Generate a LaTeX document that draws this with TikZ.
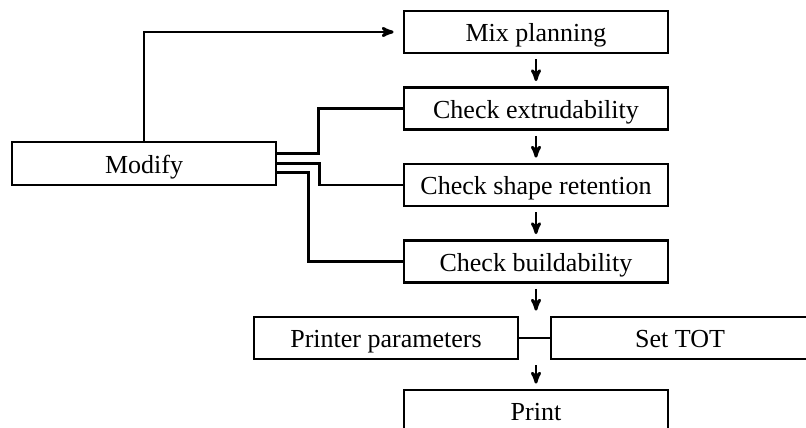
\documentclass[tikz,border=0pt]{standalone}
\usepackage{fontspec}
\setmainfont{Liberation Serif}
\usetikzlibrary{arrows}

\begin{document}
\begin{tikzpicture}[x=1pt,y=-1pt,>=stealth',line width=2.8pt,node distance=76.5pt,
        box node/.style={rectangle,draw,minimum width=264pt,minimum height=42pt,inner sep=0pt,
            text height=22pt,text depth=3pt,font=\fontsize{26}{30}\selectfont},
        flow/.style={->,shorten <=5pt,shorten >=5pt}]
        \useasboundingbox (0,0) rectangle (806,428);
        \node[box node] (mix) at (536,32) {Mix planning};
        \node[box node] (ext) [below of=mix] {Check extrudability};
        \node[box node] (shape) [below of=ext] {Check shape retention};
        \node[box node] (build) [below of=shape] {Check buildability};
        \node[box node] (pp) [below of=build, xshift=-150pt] {Printer parameters};
        \node[box node, minimum width=258pt] (tot) [below of=build, xshift=144pt] {Set TOT};
        \node[box node] (print) [below of=build, yshift=-73pt] {Print};
        \node[box node, minimum height=43pt] (mod) at (144,163.5) {Modify};
        % main flow
        \draw[flow] (mix) -- (ext);
        \draw[flow] (ext) -- (shape);
        \draw[flow] (shape) -- (build);
        \draw[flow] (build.south) -- (build.south |- pp.north);
        \draw (pp) -- (tot);
        \draw[flow] (build.south |- pp.south) -- (print.north);
        % feedback from modify
        \draw[->,shorten >=9pt] (mod.north) |- (mix.west);
        \draw ([yshift=10pt]mod.east) -- ++(41,0) |- (ext.west);
        \draw (mod.east) -- ++(42,0) |- (shape.west);
        \draw ([yshift=-9pt]mod.east) -- ++(31,0) |- (build.west);
\end{tikzpicture}
\end{document}
